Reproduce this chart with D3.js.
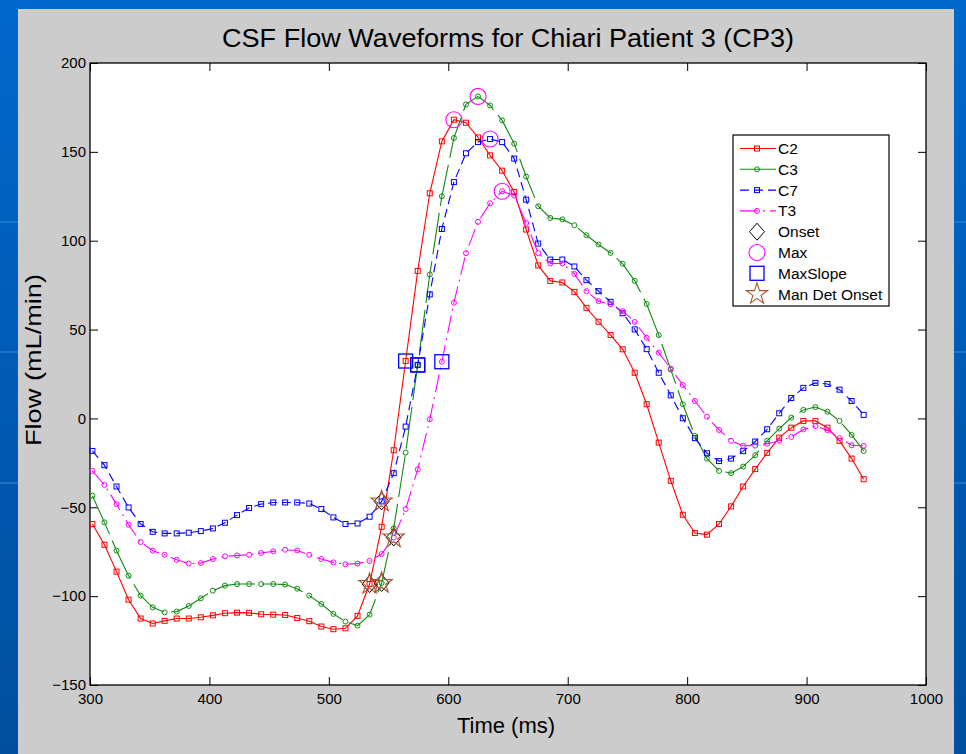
<!DOCTYPE html>
<html>
<head>
<meta charset="utf-8">
<script src="https://cdn.jsdelivr.net/npm/d3@7"></script>
<style>
body{margin:0;overflow:hidden;background:#0060c0}
text{font-family:"Liberation Sans",Arial,Helvetica,sans-serif}
</style>
</head>
<body>
<svg id="chart" width="966" height="754"></svg>
<script>
// sample times (ms), shared by all four levels
var times = [302.0,312.1,322.2,332.3,342.4,352.5,362.5,372.6,382.7,392.8,
  402.9,413.0,423.1,433.2,443.3,453.4,463.4,473.5,483.6,493.7,
  503.8,513.9,524.0,534.1,544.2,554.3,564.3,574.4,584.5,594.6,
  604.7,614.8,624.9,635.0,645.1,655.2,665.2,675.3,685.4,695.5,
  705.6,715.7,725.8,735.9,746.0,756.1,766.1,776.2,786.3,796.4,
  806.5,816.6,826.7,836.8,846.9,857.0,867.0,877.1,887.2,897.3,
  907.4,917.5,927.6,937.7,947.8];

// flow (mL/min) per level
var c2 = [-59.4,-71.1,-86.2,-102.0,-112.6,-115.4,-113.9,-112.6,-112.6,-111.9,
  -110.8,-109.6,-109.3,-109.4,-110.2,-110.4,-110.6,-112.3,-114.1,-117.1,
  -118.6,-118.1,-111.1,-93.2,-61.0,-17.9,32.3,83.0,126.7,155.9,
  168.1,166.4,158.1,148.0,139.4,127.4,106.3,86.1,77.4,76.5,
  71.2,62.2,54.4,46.9,38.9,25.7,8.0,-13.6,-35.1,-54.2,
  -64.5,-65.4,-59.4,-49.5,-38.3,-28.5,-19.4,-10.8,-5.2,-1.4,
  -1.4,-5.2,-12.6,-22.6,-34.2];
var c3 = [-43.5,-58.5,-74.4,-88.5,-99.7,-106.3,-109.1,-108.7,-105.5,-101.2,
  -96.9,-94.1,-93.2,-93.2,-93.2,-93.2,-93.5,-95.8,-99.7,-104.4,
  -110.0,-114.3,-116.6,-110.4,-92.6,-61.9,-19.2,30.1,81.0,125.0,
  157.8,176.7,181.2,176.1,167.7,154.6,136.1,119.4,112.8,112.0,
  108.7,103.1,97.9,93.1,87.0,77.4,64.4,46.9,27.5,8.0,
  -9.8,-22.6,-29.5,-30.8,-27.1,-20.7,-12.6,-5.7,0.4,4.8,
  6.4,3.8,-1.4,-9.3,-18.3];
var c7 = [-18.3,-26.3,-38.3,-50.1,-59.4,-63.8,-64.7,-64.7,-64.3,-63.4,
  -61.9,-58.7,-54.4,-50.4,-48.2,-47.3,-47.3,-47.3,-47.9,-51.0,
  -55.7,-59.4,-59.1,-55.3,-46.7,-30.8,-4.6,30.1,69.8,106.6,
  133.0,149.2,155.5,157.2,155.5,146.2,123.1,98.4,89.4,89.4,
  85.5,77.8,71.6,65.6,59.2,50.1,39.0,25.7,13.0,0.1,
  -11.1,-19.6,-24.0,-22.6,-18.4,-13.0,-6.1,2.9,11.5,17.2,
  20.0,19.4,16.2,9.8,2.0];
var t3 = [-29.5,-37.4,-48.2,-59.8,-69.6,-74.4,-76.7,-79.5,-81.7,-81.4,
  -79.1,-77.6,-77.1,-76.7,-75.7,-74.8,-73.9,-74.3,-76.7,-79.1,
  -81.0,-82.1,-81.7,-80.2,-76.3,-67.0,-51.0,-28.7,-0.5,31.9,
  65.1,93.0,110.6,121.1,127.8,125.4,110.0,93.0,87.2,87.2,
  81.3,71.6,66.0,64.2,60.4,54.3,45.4,37.0,28.0,18.8,
  9.8,1.0,-6.5,-12.6,-15.4,-15.3,-14.2,-12.6,-10.4,-6.2,
  -4.3,-6.6,-11.1,-15.1,-15.4];

var seriesNames = ['C2','C3','C7','T3'];
// sample index of each event, one per level (C2, C3, C7, T3)
var onsetIdx = [23,24,24,25];
var maxIdx = [30,32,33,34];
var maxSlopeIdx = [26,27,27,29];
var manOnsetIdx = [23,24,24,25];

var xTicks = [300,400,500,600,700,800,900,1000];
var yTicks = [-150,-100,-50,0,50,100,150,200];

var allSeries = [c2,c3,c7,t3];
var styles = [
  {color:'#ff0000', dash:null, mark:'square'},
  {color:'#108a10', dash:'42,7', mark:'circle'},
  {color:'#0000ff', dash:'9,5', mark:'square'},
  {color:'#ff00ff', dash:'18,5,2,5', mark:'circle'}
];

var svg = d3.select('#chart');

// slide background + grey figure panel
var grad = svg.append('defs').append('linearGradient')
  .attr('id','bg').attr('x1',0).attr('y1',0).attr('x2',0).attr('y2',1);
grad.append('stop').attr('offset','0%').attr('stop-color','#0068cc');
grad.append('stop').attr('offset','100%').attr('stop-color','#004f9e');
svg.append('rect').attr('width',966).attr('height',754).attr('fill','url(#bg)');
[222,352,483].forEach(function(yy){
  svg.append('rect').attr('x',0).attr('y',yy-1).attr('width',966).attr('height',2)
    .attr('fill','#2a84dc').attr('opacity',0.6);
});
svg.append('rect').attr('x',18).attr('y',9).attr('width',936).attr('height',745).attr('fill','#cccccc');

var x = d3.scaleLinear().domain([300,1000]).range([90,926]);
var y = d3.scaleLinear().domain([-150,200]).range([685,63]);

svg.append('rect').attr('x',90).attr('y',63).attr('width',836).attr('height',622).attr('fill','#fff');

// axes, MATLAB style with inward ticks on all four sides
function styleAxis(g){
  g.select('.domain').remove();
  g.selectAll('line').attr('stroke','#000');
  g.selectAll('text').attr('font-size',15).attr('fill','#000')
    .attr('font-family','"Liberation Sans",Arial,sans-serif');
}
svg.append('g').attr('transform','translate(0,685)')
  .call(d3.axisBottom(x).tickValues(xTicks).tickFormat(d3.format('d')).tickSizeInner(-8).tickSizeOuter(0).tickPadding(8))
  .call(styleAxis);
svg.append('g').attr('transform','translate(90,0)')
  .call(d3.axisLeft(y).tickValues(yTicks).tickFormat(d3.format('d')).tickSizeInner(-8).tickSizeOuter(0).tickPadding(4))
  .call(styleAxis);
svg.append('g').attr('transform','translate(0,63)')
  .call(d3.axisTop(x).tickValues(xTicks).tickFormat('').tickSizeInner(-8).tickSizeOuter(0))
  .call(styleAxis);
svg.append('g').attr('transform','translate(926,0)')
  .call(d3.axisRight(y).tickValues(yTicks).tickFormat('').tickSizeInner(-8).tickSizeOuter(0))
  .call(styleAxis);
svg.append('rect').attr('x',90).attr('y',63).attr('width',836).attr('height',622)
  .attr('fill','none').attr('stroke','#000').attr('stroke-width',1.3);

// lines + small markers
var line = d3.line().x(function(d,i){return x(times[i]);}).y(function(d){return y(d);});
function smallMark(sel, st){
  if(st.mark=='square'){
    sel.append('rect').attr('x',-2.5).attr('y',-2.5).attr('width',5).attr('height',5);
  } else {
    sel.append('circle').attr('r',2.5);
  }
  sel.selectAll('rect,circle').attr('fill','none').attr('stroke',st.color).attr('stroke-width',1);
}
allSeries.forEach(function(s,k){
  var st = styles[k];
  svg.append('path').datum(s).attr('d',line).attr('fill','none')
    .attr('stroke',st.color).attr('stroke-width',1.1)
    .attr('stroke-dasharray',st.dash);
  svg.append('g').selectAll('g').data(s).enter().append('g')
    .attr('transform',function(d,i){return 'translate('+x(times[i])+','+y(d)+')';})
    .each(function(){ smallMark(d3.select(this), st); });
});

// event markers
var diamondPath = 'M0,-8.5L7.5,0L0,8.5L-7.5,0Z';
var starPath = d3.symbol().type(d3.symbolStar).size(140)();
function evPos(idx){
  return idx.map(function(ix,k){return [x(times[ix]), y(allSeries[k][ix])];});
}
svg.append('g').selectAll('path').data(evPos(onsetIdx)).enter().append('path')
  .attr('d',diamondPath).attr('transform',function(d){return 'translate('+d[0]+','+d[1]+')';})
  .attr('fill','none').attr('stroke','#000').attr('stroke-width',1);
svg.append('g').selectAll('circle').data(evPos(maxIdx)).enter().append('circle')
  .attr('cx',function(d){return d[0];}).attr('cy',function(d){return d[1];}).attr('r',8)
  .attr('fill','none').attr('stroke','#ff00ff').attr('stroke-width',1.1);
svg.append('g').selectAll('rect').data(evPos(maxSlopeIdx)).enter().append('rect')
  .attr('x',function(d){return d[0]-7;}).attr('y',function(d){return d[1]-7;})
  .attr('width',14).attr('height',14)
  .attr('fill','none').attr('stroke','#0000ff').attr('stroke-width',1.3);
svg.append('g').selectAll('path').data(evPos(manOnsetIdx)).enter().append('path')
  .attr('d',starPath).attr('transform',function(d){return 'translate('+d[0]+','+d[1]+')';})
  .attr('fill','none').attr('stroke','#a8532a').attr('stroke-width',1.1);

// legend
var lg = svg.append('g');
lg.append('rect').attr('x',733).attr('y',135).attr('width',156).attr('height',171)
  .attr('fill','#fff').attr('stroke','#000').attr('stroke-width',1.2);
var legendRows = seriesNames.concat(['Onset','Max','MaxSlope','Man Det Onset']);
legendRows.forEach(function(name,r){
  var ly = 148.5 + r*20.8;
  var row = lg.append('g');
  if(r<4){
    var st = styles[r];
    row.append('line').attr('x1',740).attr('x2',776).attr('y1',ly).attr('y2',ly)
      .attr('stroke',st.color).attr('stroke-width',1.1).attr('stroke-dasharray',st.dash);
    var m = row.append('g').attr('transform','translate(757,'+ly+')');
    smallMark(m, st);
  } else if(name=='Onset'){
    row.append('path').attr('d',diamondPath).attr('transform','translate(757,'+ly+')')
      .attr('fill','none').attr('stroke','#000').attr('stroke-width',1);
  } else if(name=='Max'){
    row.append('circle').attr('cx',757).attr('cy',ly).attr('r',8)
      .attr('fill','none').attr('stroke','#ff00ff').attr('stroke-width',1.1);
  } else if(name=='MaxSlope'){
    row.append('rect').attr('x',750).attr('y',ly-7).attr('width',14).attr('height',14)
      .attr('fill','none').attr('stroke','#0000ff').attr('stroke-width',1.3);
  } else {
    row.append('path').attr('d',starPath).attr('transform','translate(757,'+ly+')')
      .attr('fill','none').attr('stroke','#a8532a').attr('stroke-width',1.1);
  }
  row.append('text').attr('x',778).attr('y',ly).attr('dy','0.36em')
    .attr('font-size',15.5).attr('fill','#000').text(name);
});

// titles
svg.append('text').attr('x',508).attr('y',47).attr('text-anchor','middle')
  .attr('font-size',25).attr('fill','#000')
  .attr('textLength',572).attr('lengthAdjust','spacingAndGlyphs')
  .text('CSF Flow Waveforms for Chiari Patient 3 (CP3)');
svg.append('text').attr('x',506).attr('y',733).attr('text-anchor','middle')
  .attr('font-size',22).attr('fill','#000').text('Time (ms)');
svg.append('text').attr('transform','translate(41,360) rotate(-90)').attr('text-anchor','middle')
  .attr('font-size',22).attr('fill','#000')
  .attr('textLength',172).attr('lengthAdjust','spacingAndGlyphs')
  .text('Flow (mL/min)');
</script>
</body>
</html>
